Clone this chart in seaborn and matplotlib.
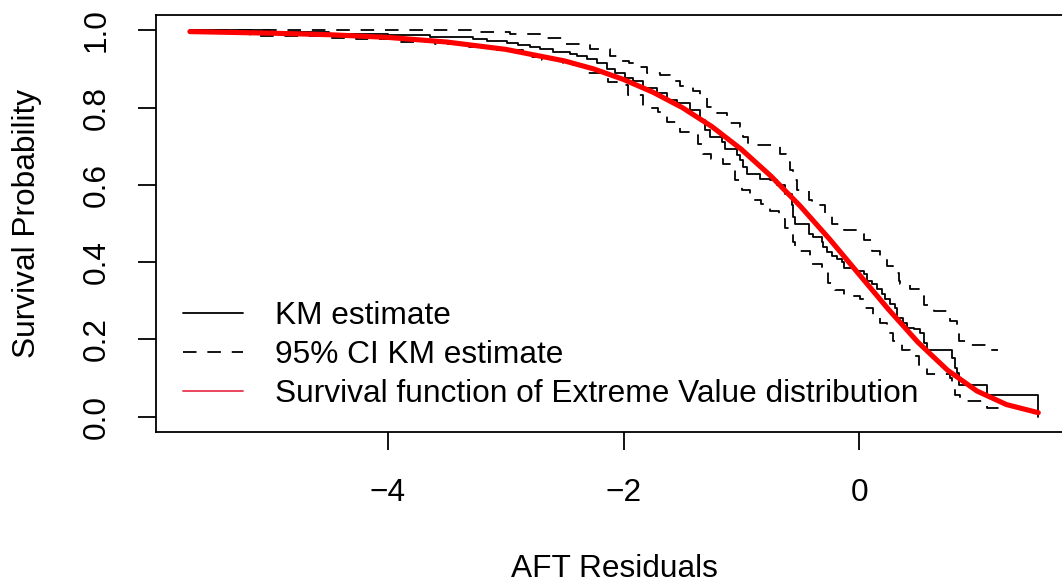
import matplotlib
matplotlib.use("Agg")
import matplotlib.pyplot as plt
import seaborn as sns
import pandas as pd
from matplotlib.lines import Line2D

# Kaplan-Meier estimate of the AFT residuals (step function)
km_time = [-5.68, -5.00, -4.50, -4.00, -3.64, -3.275, -3.162, -2.992, -2.893, -2.794,
           -2.709, -2.596, -2.454, -2.397, -2.313, -2.228, -2.143, -2.072, -1.987, -1.917,
           -1.832, -1.718, -1.633, -1.548, -1.435, -1.350, -1.308, -1.265, -1.166, -1.138,
           -1.039, -1.011, -0.982, -0.954, -0.841, -0.756, -0.699, -0.628, -0.572, -0.558,
           -0.544, -0.430, -0.388, -0.317, -0.303, -0.274, -0.232, -0.189, -0.147, -0.133,
           -0.034, 0.037, 0.065, 0.108, 0.150, 0.193, 0.221, 0.263, 0.306, 0.320,
           0.370, 0.405, 0.461, 0.518, 0.546, 0.575, 0.787, 0.815, 0.830, 0.849,
           1.085, 1.518]
km_surv = [1.000, 0.995, 0.992, 0.988, 0.983, 0.977, 0.972, 0.968, 0.962, 0.957,
           0.951, 0.945, 0.939, 0.933, 0.925, 0.916, 0.900, 0.889, 0.877, 0.868,
           0.851, 0.838, 0.820, 0.812, 0.794, 0.768, 0.742, 0.725, 0.710, 0.694,
           0.677, 0.664, 0.647, 0.629, 0.616, 0.612, 0.599, 0.577, 0.547, 0.516,
           0.499, 0.473, 0.464, 0.451, 0.438, 0.425, 0.417, 0.408, 0.399, 0.386,
           0.378, 0.369, 0.352, 0.343, 0.330, 0.317, 0.304, 0.291, 0.282, 0.256,
           0.243, 0.230, 0.226, 0.217, 0.191, 0.172, 0.152, 0.126, 0.113, 0.0825,
           0.0565, 0.000]

# 95% confidence band of the KM estimate
upper_time = [-5.68, -3.275, -2.964, -2.709, -2.511, -2.285, -2.115, -2.030, -1.950, -1.888,
              -1.803, -1.690, -1.605, -1.520, -1.407, -1.350, -1.293, -1.208, -1.124, -1.096,
              -1.011, -0.982, -0.940, -0.671, -0.620, -0.586, -0.558, -0.529, -0.430, -0.400,
              -0.289, -0.232, -0.133, -0.020, 0.037, 0.108, 0.178, 0.235, 0.291, 0.334,
              0.348, 0.433, 0.504, 0.546, 0.631, 0.759, 0.773, 0.830, 0.843, 0.915,
              1.113, 1.180]
upper_surv = [1.000, 0.997, 0.990, 0.981, 0.966, 0.951, 0.933, 0.922, 0.915, 0.905,
              0.890, 0.885, 0.868, 0.855, 0.842, 0.825, 0.803, 0.786, 0.764, 0.760,
              0.750, 0.725, 0.703, 0.681, 0.660, 0.638, 0.612, 0.586, 0.560, 0.547,
              0.521, 0.499, 0.482, 0.473, 0.456, 0.430, 0.412, 0.391, 0.373, 0.352,
              0.344, 0.330, 0.312, 0.290, 0.273, 0.265, 0.247, 0.213, 0.195, 0.185,
              0.172, 0.172]
lower_time = [-5.68, -5.17, -4.52, -4.27, -3.90, -3.60, -3.318, -3.077, -2.851, -2.695,
              -2.511, -2.299, -2.129, -2.058, -1.959, -1.832, -1.705, -1.633, -1.520, -1.435,
              -1.364, -1.322, -1.260, -1.152, -1.053, -0.996, -0.926, -0.835, -0.756, -0.677,
              -0.628, -0.563, -0.544, -0.416, -0.317, -0.269, -0.204, -0.133, 0.008, 0.051,
              0.116, 0.178, 0.235, 0.291, 0.363, 0.433, 0.504, 0.575, 0.773, 0.790,
              0.815, 0.858, 1.085, 1.226]
lower_surv = [0.994, 0.986, 0.981, 0.977, 0.970, 0.964, 0.957, 0.949, 0.931, 0.924,
              0.910, 0.890, 0.866, 0.859, 0.833, 0.799, 0.790, 0.764, 0.738, 0.729,
              0.705, 0.680, 0.666, 0.654, 0.612, 0.586, 0.562, 0.551, 0.532, 0.512,
              0.489, 0.451, 0.430, 0.395, 0.378, 0.347, 0.327, 0.312, 0.304, 0.282,
              0.260, 0.243, 0.217, 0.195, 0.172, 0.157, 0.133, 0.111, 0.100, 0.080,
              0.0565, 0.039, 0.021, 0.021]

# fitted survival function of the extreme value distribution
ev_x = [-5.68, -5.00, -4.50, -4.00, -3.50, -3.00, -2.50, -2.25, -2.00, -1.75,
        -1.50, -1.25, -1.00, -0.75, -0.50, -0.25, 0.00, 0.25, 0.50, 0.75,
        1.00, 1.25, 1.52]
ev_surv = [0.997, 0.993, 0.989, 0.982, 0.970, 0.951, 0.921, 0.900, 0.873, 0.840,
           0.800, 0.751, 0.692, 0.623, 0.545, 0.459, 0.368, 0.277, 0.192, 0.120,
           0.066, 0.031, 0.010]

legend_labels = ["KM estimate", "95% CI KM estimate",
                 "Survival function of Extreme Value distribution"]

sns.set_style("white")
plt.rcParams["font.family"] = ["Liberation Sans", "DejaVu Sans"]
plt.rcParams["text.color"] = "black"
plt.rcParams["axes.labelcolor"] = "black"
plt.rcParams["xtick.color"] = "black"
plt.rcParams["ytick.color"] = "black"

fs = 22.8
lw_thin = 1.3
dash = (0, (7.5, 6))

fig = plt.figure(figsize=(10.62, 5.83), dpi=100)
ax = fig.add_axes([156 / 1062, 151 / 583, 916 / 1062, 417 / 583])

km_df = pd.DataFrame({"t": km_time, "s": km_surv})
up_df = pd.DataFrame({"t": upper_time, "s": upper_surv})
lo_df = pd.DataFrame({"t": lower_time, "s": lower_surv})
ev_df = pd.DataFrame({"t": ev_x, "s": ev_surv})

sns.lineplot(data=km_df, x="t", y="s", ax=ax, color="black", lw=lw_thin,
             drawstyle="steps-post", estimator=None, sort=False)
for df in (up_df, lo_df):
    sns.lineplot(data=df, x="t", y="s", ax=ax, color="black", lw=lw_thin,
                 linestyle=dash, drawstyle="steps-post", estimator=None, sort=False)
sns.lineplot(data=ev_df, x="t", y="s", ax=ax, color="#ff0000", lw=3.7,
             estimator=None, sort=False)

ax.set_xlim(-5.968, 1.806)
ax.set_ylim(-0.04, 1.04)
ax.set_xticks([-4, -2, 0])
ax.set_yticks([0.0, 0.2, 0.4, 0.6, 0.8, 1.0])
ax.set_yticklabels(["0.0", "0.2", "0.4", "0.6", "0.8", "1.0"], rotation=90, va="center")
ax.tick_params(axis="both", direction="out", length=13, width=lw_thin,
               color="black", labelcolor="black", labelsize=fs, left=True, bottom=True)
ax.tick_params(axis="x", pad=20)
ax.tick_params(axis="y", pad=19)

for sp in ax.spines.values():
    sp.set_visible(True)
    sp.set_color("black")
    sp.set_linewidth(lw_thin)

ax.set_xlabel("AFT Residuals", fontsize=fs, color="black")
ax.set_ylabel("Survival Probability", fontsize=fs, color="black")
ax.xaxis.label.set_va("center")
ax.yaxis.label.set_va("center")
ax.xaxis.set_label_coords(0.5, (432 - 569) / 417)
ax.yaxis.set_label_coords((27 - 156) / 916, 0.5)

handles = [
    Line2D([], [], color="black", lw=lw_thin),
    Line2D([], [], color="black", lw=lw_thin, linestyle=dash),
    Line2D([], [], color="#e8364e", lw=lw_thin),
]
leg = ax.legend(handles, legend_labels, loc="upper left",
                bbox_to_anchor=((183 - 156) / 916, (432 - 301) / 417),
                frameon=False, fontsize=fs, handlelength=1.89, handletextpad=1.0,
                labelspacing=0.28, borderaxespad=0, borderpad=0)
for t in leg.get_texts():
    t.set_color("black")

fig.savefig("out.png", dpi=100)
